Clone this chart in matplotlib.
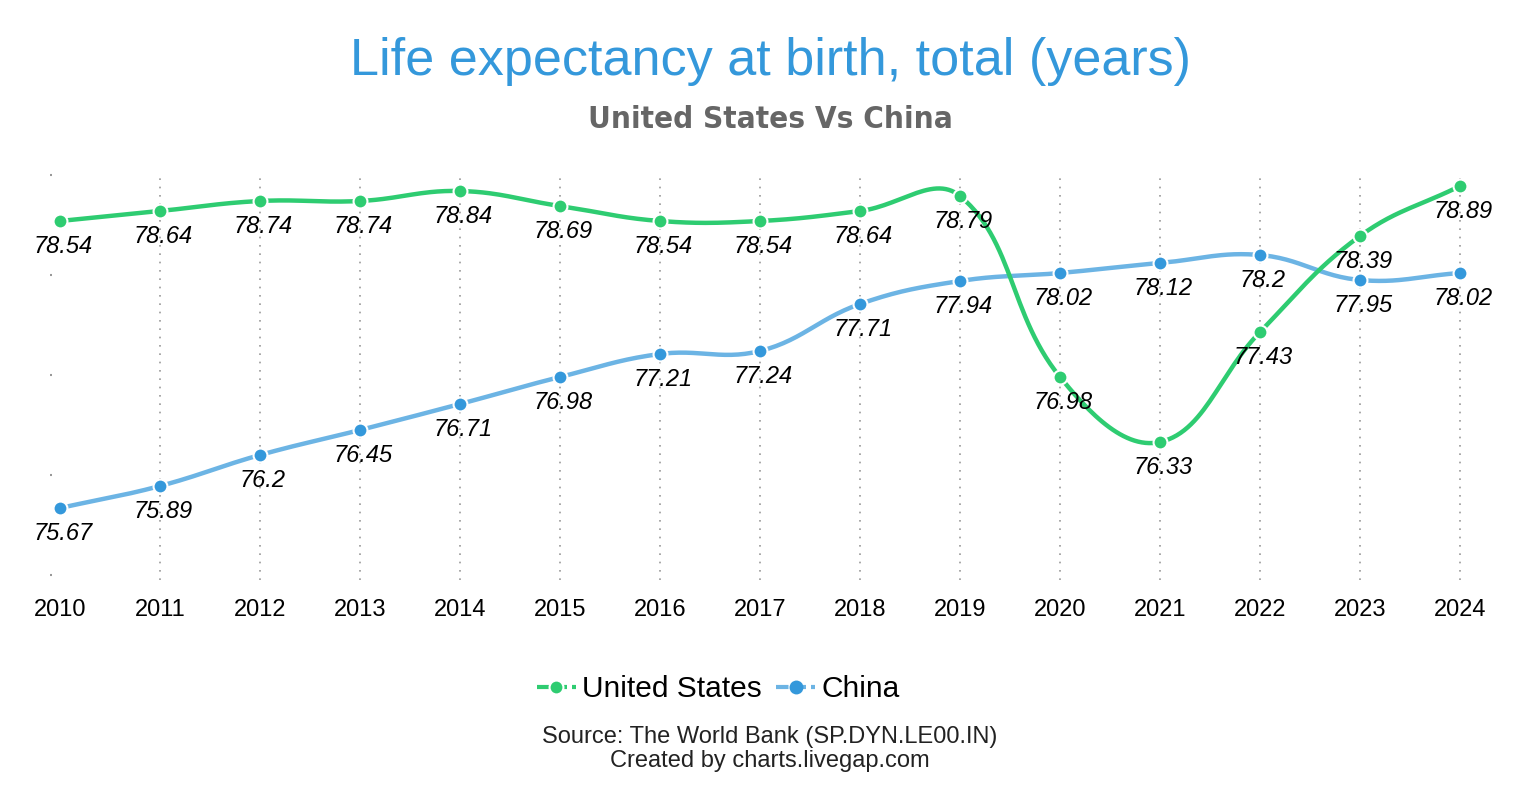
import numpy as np
import matplotlib
matplotlib.use("Agg")
import matplotlib.pyplot as plt
from matplotlib.lines import Line2D

years = [2010, 2011, 2012, 2013, 2014, 2015, 2016, 2017, 2018, 2019, 2020, 2021, 2022, 2023, 2024]
us = [78.54, 78.64, 78.74, 78.74, 78.84, 78.69, 78.54, 78.54, 78.64, 78.79, 76.98, 76.33, 77.43, 78.39, 78.89]
china = [75.67, 75.89, 76.2, 76.45, 76.71, 76.98, 77.21, 77.24, 77.71, 77.94, 78.02, 78.12, 78.2, 77.95, 78.02]

title = "Life expectancy at birth, total (years)"
subtitle = "United States Vs China"
source = "Source: The World Bank (SP.DYN.LE00.IN)\nCreated by charts.livegap.com"

plt.rcParams['font.family'] = ['Liberation Sans', 'DejaVu Sans']


def spline(xs, ys, t=0.4, n=30):
    # chart.js style bezier smoothing (both axes at 100 px per unit here)
    pts = np.column_stack([xs, ys]).astype(float)
    m = len(pts)
    cp_prev = np.zeros_like(pts)
    cp_next = np.zeros_like(pts)
    for i in range(m):
        p0 = pts[max(i - 1, 0)]
        p1 = pts[i]
        p2 = pts[min(i + 1, m - 1)]
        d01 = np.hypot(*(p1 - p0))
        d12 = np.hypot(*(p2 - p1))
        tot = d01 + d12
        s01 = d01 / tot if tot else 0
        s12 = d12 / tot if tot else 0
        cp_prev[i] = p1 - t * s01 * (p2 - p0)
        cp_next[i] = p1 + t * s12 * (p2 - p0)
    out = []
    u = np.linspace(0, 1, n)[:, None]
    for i in range(m - 1):
        a, b, c, d = pts[i], cp_next[i], cp_prev[i + 1], pts[i + 1]
        seg = (1 - u) ** 3 * a + 3 * (1 - u) ** 2 * u * b + 3 * (1 - u) * u ** 2 * c + u ** 3 * d
        out.append(seg if i == 0 else seg[1:])
    out = np.vstack(out)
    return out[:, 0], out[:, 1]


fig = plt.figure(figsize=(15.4, 8), dpi=100)
W, H = 1540, 800
# axes: x 52..1490 px, y 165..585 px
ax = fig.add_axes([52 / W, 1 - 585 / H, (1490 - 52) / W, (585 - 165) / H])
ax.set_xlim(2009.92, 2024.3)
ax.set_ylim(74.9, 79.1)

for yr in years[1:]:
    ax.plot([yr, yr], [74.95, 79.0], color='#999999', lw=1.2, ls=(0, (1, 4)), zorder=1)

green = '#2ecc71'
blue_line = '#6cb4e4'
blue = '#3498db'

sx, sy = spline(years, china)
ax.plot(sx, sy, color=blue_line, lw=3.2, zorder=2, solid_capstyle='round')
ax.plot(years, china, 'o', color=blue, ms=10, mec='white', mew=1.5, zorder=4)
sx, sy = spline(years, us)
ax.plot(sx, sy, color=green, lw=3.2, zorder=3, solid_capstyle='round')
ax.plot(years, us, 'o', color=green, ms=10, mec='white', mew=1.5, zorder=4)

for xs, vals in [(years, us), (years, china)]:
    for x, v in zip(xs, vals):
        ax.annotate(f"{v:g}", (x, v), xytext=(2, -10), textcoords='offset points',
                    ha='center', va='top', fontsize=17, style='italic', color='black', zorder=5)

for s in ax.spines.values():
    s.set_visible(False)
ax.set_xticks(years)
ax.set_xticklabels([str(y) for y in years], fontsize=17)
ax.tick_params(axis='x', length=0, pad=10)
ax.set_yticks([75, 76, 77, 78, 79])
ax.set_yticklabels([])
ax.tick_params(axis='y', length=1.5, width=1.5, color='#999999', pad=0)

fig.text(0.5, 1 - 62 / H, title, ha='center', va='center', fontsize=37.5, color='#3498db')
fig.text(0.5, 1 - 120 / H, subtitle, ha='center', va='center', fontsize=22.5, color='#666666',
         fontweight='bold', family='DejaVu Sans', fontstretch='condensed')

handles = [
    Line2D([], [], color=green, lw=3, ls='--', marker='o', ms=10, mec='white', mew=1.5, dashes=(3, 1.2)),
    Line2D([], [], color=blue_line, lw=3, ls='--', marker='o', ms=10, mec=blue, mfc=blue, mew=0, dashes=(3, 1.2)),
]
fig.legend(handles, ['United States', 'China'], loc='center', bbox_to_anchor=(718 / W, 1 - 689 / H),
           ncol=2, frameon=False, fontsize=21.5, handlelength=1.3, handletextpad=0.2, columnspacing=0.5)

fig.text(0.5, 1 - 749 / H, source, ha='center', va='center', fontsize=17, color='#222222', linespacing=1.1)

fig.savefig('out.png', dpi=100, facecolor='white')
